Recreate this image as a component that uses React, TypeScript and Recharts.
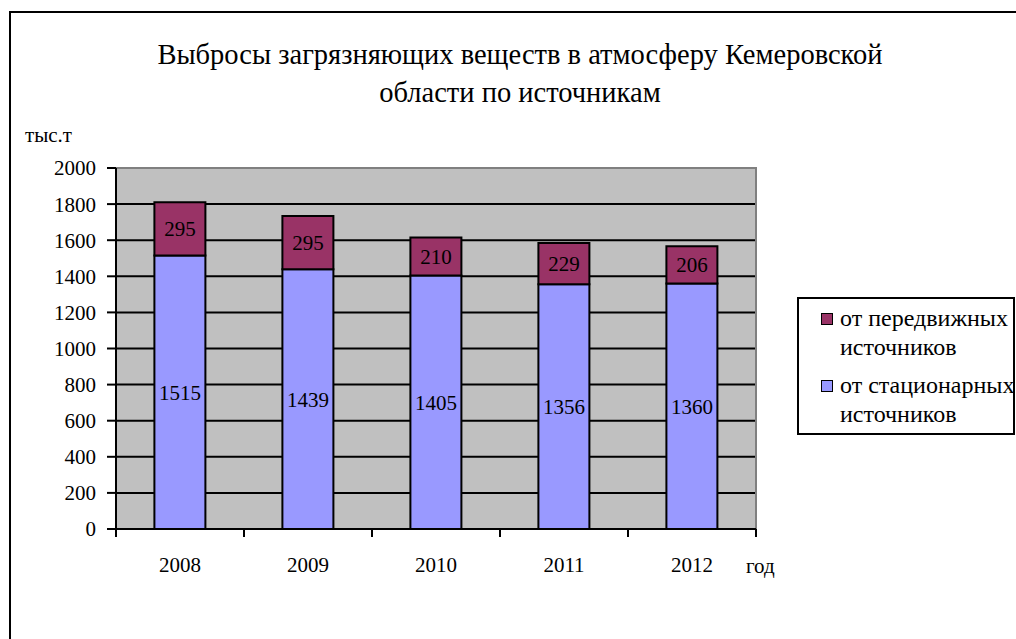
import React from "react";
import {
  BarChart,
  Bar,
  XAxis,
  YAxis,
  CartesianGrid,
  LabelList,
  ReferenceArea,
} from "recharts";

const years = ["2008", "2009", "2010", "2011", "2012"];
const stationary = [1515, 1439, 1405, 1356, 1360];
const mobile = [295, 295, 210, 229, 206];
const yTicks = [0, 200, 400, 600, 800, 1000, 1200, 1400, 1600, 1800, 2000];
const gridTicks = [0, 200, 400, 600, 800, 1000, 1200, 1400, 1600, 1800];

const titleLine1 = "Выбросы загрязняющих веществ в атмосферу Кемеровской";
const titleLine2 = "области по источникам";
const yUnit = "тыс.т";
const xUnit = "год";
const seriesNames = {
  mobile: "от передвижных источников",
  stationary: "от стационарных источников",
};
const legendLines = [
  { key: "mobile", color: "#993366", lines: ["от передвижных", "источников"] },
  { key: "stationary", color: "#9999FF", lines: ["от стационарных", "источников"] },
];

const data = years.map((y, i) => ({
  year: y,
  stationary: stationary[i],
  mobile: mobile[i],
}));

const FONT = "'Liberation Serif', 'Times New Roman', serif";

const XTick = (props: any) => {
  const { x, y, payload, index, visibleTicksCount } = props;
  const half = payload && payload.offset ? payload.offset : 64;
  const last = index === (visibleTicksCount ?? years.length) - 1;
  return (
    <g>
      <line x1={x - half} x2={x - half} y1={y} y2={y + 8} stroke="#000" strokeWidth={2} />
      {last && (
        <line x1={x + half} x2={x + half} y1={y} y2={y + 8} stroke="#000" strokeWidth={2} />
      )}
      <text
        x={x}
        y={y + 36}
        textAnchor="middle"
        dominantBaseline="central"
        fontFamily={FONT}
        fontSize={21}
        fill="#000"
      >
        {payload.value}
      </text>
      {last && (
        <text
          x={x + half - 10}
          y={y + 37}
          textAnchor="start"
          dominantBaseline="central"
          fontFamily={FONT}
          fontSize={21}
          fill="#000"
        >
          {xUnit}
        </text>
      )}
    </g>
  );
};

const LegendBox = () => (
  <div
    style={{
      position: "absolute",
      left: 797,
      top: 297,
      boxSizing: "border-box",
      width: 218,
      height: 138,
      border: "2px solid #000",
      background: "#fff",
      fontFamily: FONT,
      fontSize: 24,
      color: "#000",
      padding: "5px 0 0 22px",
    }}
  >
    {legendLines.map((it, k) => (
      <div key={it.key} style={{ position: "relative", marginBottom: k === 0 ? 9 : 0, lineHeight: "29px" }}>
        <span
          style={{
            position: "absolute",
            left: 0,
            top: 9,
            width: 10,
            height: 10,
            background: it.color,
            border: "1.5px solid #000",
          }}
        />
        <div style={{ paddingLeft: 19, whiteSpace: "nowrap" }}>{it.lines[0]}</div>
        <div style={{ paddingLeft: 19, whiteSpace: "nowrap" }}>{it.lines[1]}</div>
      </div>
    ))}
  </div>
);

export default function App() {
  return (
    <div
      style={{
        position: "fixed",
        left: 0,
        top: 0,
        width: 1016,
        height: 639,
        overflow: "hidden",
        background: "#fff",
        fontFamily: FONT,
      }}
    >
      <div
        style={{
          position: "absolute",
          left: 9,
          top: 11,
          width: 1200,
          height: 800,
          border: "2px solid #000",
        }}
      />
      <div
        style={{
          position: "absolute",
          left: 0,
          width: 1040,
          top: 36,
          textAlign: "center",
          fontSize: 28.5,
          lineHeight: "38px",
          color: "#000",
        }}
      >
        <div>{titleLine1}</div>
        <div>{titleLine2}</div>
      </div>
      <div
        style={{
          position: "absolute",
          left: 25,
          top: 123,
          fontSize: 21,
          color: "#000",
        }}
      >
        {yUnit}
      </div>
      <div style={{ position: "absolute", left: 0, top: 0 }}>
        <BarChart
          width={1016}
          height={639}
          data={data}
          margin={{ top: 168, right: 260, bottom: 80, left: 56 }}
          barCategoryGap="30%"
        >
          <CartesianGrid
            vertical={false}
            horizontalValues={gridTicks}
            stroke="#000"
            strokeWidth={2}
            fill="#C0C0C0"
            fillOpacity={1}
          />
          <ReferenceArea
            y1={0}
            y2={2000}
            fill="none"
            stroke="#808080"
            strokeWidth={2}
            ifOverflow="visible"
          />
          <XAxis
            dataKey="year"
            height={30}
            tickLine={false}
            tickSize={0}
            tickMargin={0}
            axisLine={{ stroke: "#000", strokeWidth: 2 }}
            tick={(p: any) => <XTick {...p} />}
            interval={0}
          />
          <YAxis
            width={60}
            domain={[0, 2000]}
            ticks={yTicks}
            interval={0}
            tickSize={9}
            tickMargin={11}
            axisLine={{ stroke: "#000", strokeWidth: 2 }}
            tickLine={{ stroke: "#000", strokeWidth: 2 }}
            tick={{ fill: "#000", fontSize: 21, fontFamily: FONT }}
          />
          <Bar
            dataKey="stationary"
            name={seriesNames.stationary}
            stackId="a"
            fill="#9999FF"
            stroke="#000"
            strokeWidth={2}
            isAnimationActive={false}
          >
            <LabelList
              dataKey="stationary"
              position="center"
              fill="#000"
              fontSize={21}
              fontFamily={FONT}
            />
          </Bar>
          <Bar
            dataKey="mobile"
            name={seriesNames.mobile}
            stackId="a"
            fill="#993366"
            stroke="#000"
            strokeWidth={2}
            isAnimationActive={false}
          >
            <LabelList
              dataKey="mobile"
              position="center"
              fill="#000"
              fontSize={21}
              fontFamily={FONT}
            />
          </Bar>
        </BarChart>
      </div>
      <LegendBox />
    </div>
  );
}
